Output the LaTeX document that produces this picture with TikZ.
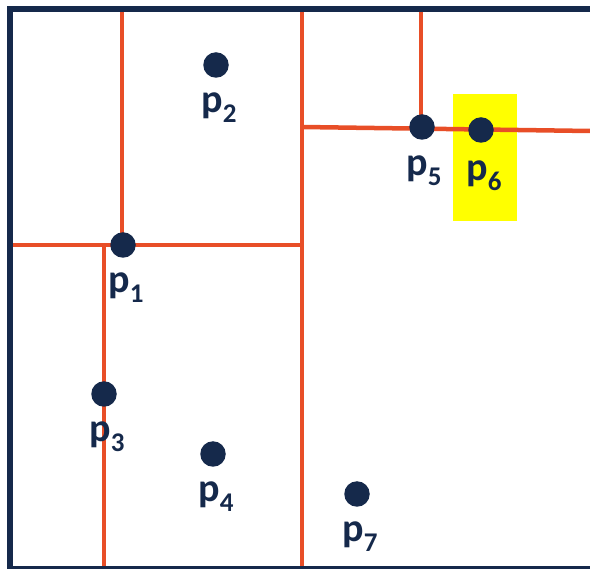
\documentclass[tikz,border=0pt]{standalone}
\usepackage{fontspec}
\setmainfont{Carlito}
\definecolor{navy}{HTML}{15294B}
\definecolor{split}{HTML}{E84E27}
\definecolor{hl}{HTML}{FFFF00}
\newcommand\plbl[1]{p\raisebox{-10pt}{\fontsize{27}{27}\selectfont #1}}
\begin{document}
\begin{tikzpicture}[x=1pt,y=-1pt,
  dot/.style={circle,fill=navy,inner sep=0pt,minimum size=25.5pt},
  lbl/.style={anchor=base,text=navy,font=\fontsize{40}{40}\selectfont\bfseries,inner sep=0pt},
  cut/.style={draw=split,line width=4.5pt},
  frame/.style={draw=navy,line width=6pt}]
\useasboundingbox (0,0) rectangle (590,569);
% highlight
\fill[hl] (453,94) rectangle (517,221);
% coordinates
\coordinate (t1) at (122,9);
\coordinate (l1) at (13,245);
\coordinate (b1) at (104,569);
\coordinate (t2) at (302,9);
\coordinate (b2) at (302,569);
\coordinate (m2) at (302,127);
\coordinate (r2) at (590,131);
\coordinate (t3) at (421,9);
% points
\coordinate (p1) at (123,245);
\coordinate (p2) at (216,65);
\coordinate (p3) at (104,394);
\coordinate (p4) at (213,454);
\coordinate (p5) at (422,127);
\coordinate (p6) at (481,130);
\coordinate (p7) at (357,494);
% cuts
\draw[cut] (t1) -- (122,245);
\draw[cut] (l1) -- (302,245);
\draw[cut] (104,245) -- (b1);
\draw[cut] (t2) -- (b2);
\draw[cut] (m2) -- (r2);
\draw[cut] (t3) -- (421,127);
% frame
\draw[frame] (590,9) -- (10,9) -- (10,569);
\draw[frame] (7,569) -- (590,569);
% dots
\foreach \p in {p1,p2,p3,p4,p5,p6,p7}
  \node[dot] (d\p) at (\p) {};
% labels
\node[lbl] (lp1) at (126,293) {\plbl{1}};
\node[lbl] (lp2) at (219,113) {\plbl{2}};
\node[lbl] (lp3) at (107,442) {\plbl{3}};
\node[lbl] (lp4) at (216,502) {\plbl{4}};
\node[lbl] (lp5) at (424,176) {\plbl{5}};
\node[lbl] (lp6) at (484,181) {\plbl{6}};
\node[lbl] (lp7) at (360,542) {\plbl{7}};
\end{tikzpicture}
\end{document}
